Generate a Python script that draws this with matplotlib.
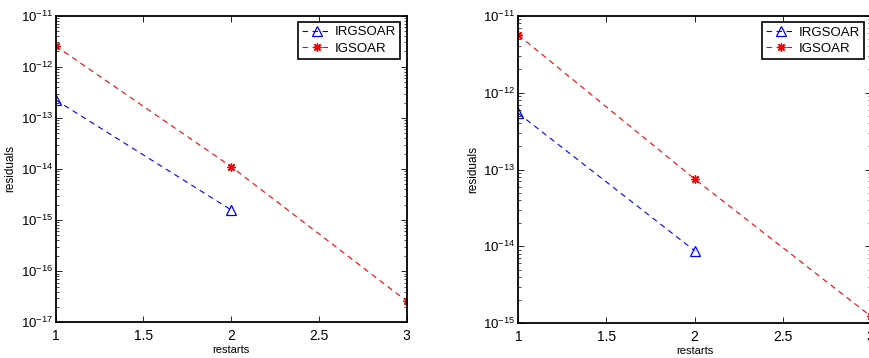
import matplotlib
matplotlib.use('Agg')
import matplotlib.pyplot as plt
from matplotlib.ticker import LogLocator, NullFormatter

plt.rcParams['font.family'] = ['Liberation Sans', 'DejaVu Sans']
plt.rcParams['mathtext.fontset'] = 'custom'
plt.rcParams['mathtext.rm'] = 'Liberation Sans'
plt.rcParams['mathtext.it'] = 'Liberation Sans:italic'

# restart index
restarts_a = [1, 2]
restarts_b = [1, 2, 3]

# left panel residuals
left_irgsoar = [2.24e-13, 1.58e-15]
left_igsoar = [2.55e-12, 1.11e-14, 2.6e-17]

# right panel residuals
right_irgsoar = [5.37e-13, 8.8e-15]
right_igsoar = [5.6e-12, 7.55e-14, 1.24e-15]

xticks = [1, 1.5, 2, 2.5, 3]
xticklabels = ['1', '1.5', '2', '2.5', '3']


def draw_panel(ax, irg, ig, ylim):
    ax.semilogy(restarts_a, irg, color='blue', ls=(0, (5, 4)), lw=0.8,
                marker='^', mfc='none', mec='blue', ms=7, mew=0.9,
                label='IRGSOAR')
    ax.semilogy(restarts_b, ig, color='red', ls=(0, (5, 4)), lw=0.8,
                marker=(8, 2, 0), mec='red', ms=6, mew=1.0,
                label='IGSOAR')
    ax.set_xlim(1, 3)
    ax.set_ylim(*ylim)
    ax.set_xticks(xticks)
    ax.set_xticklabels(xticklabels)
    ax.yaxis.set_major_locator(LogLocator(base=10, numticks=20))
    ax.yaxis.set_minor_locator(LogLocator(base=10, subs=range(2, 10), numticks=20))
    ax.yaxis.set_minor_formatter(NullFormatter())
    ax.tick_params(which='both', direction='in', top=True, right=True)
    ax.tick_params(axis='x', labelsize=10, pad=5)
    ax.tick_params(axis='y', labelsize=9.5, pad=2)
    ax.tick_params(which='major', length=4, width=0.6)
    ax.tick_params(which='minor', length=2, width=0.5)
    for s in ax.spines.values():
        s.set_linewidth(1.3)
    ax.set_xlabel('restarts', fontsize=8, labelpad=1)
    ax.set_ylabel('residuals', fontsize=8.5, labelpad=3)
    leg = ax.legend(loc='upper right', fontsize=9.5, fancybox=False,
                    framealpha=1, edgecolor='black', borderaxespad=0.5,
                    handlelength=2.3, handletextpad=0.2, borderpad=0.3,
                    labelspacing=0.3)
    leg.get_frame().set_linewidth(1.2)


fig = plt.figure(figsize=(8.7, 3.58), dpi=100)
ax1 = fig.add_axes([0.064, 0.0997, 0.4035, 0.8565])
ax2 = fig.add_axes([0.5958, 0.097, 0.4050, 0.859])

draw_panel(ax1, left_irgsoar, left_igsoar, (1e-17, 1e-11))
draw_panel(ax2, right_irgsoar, right_igsoar, (1e-15, 1e-11))

fig.savefig('out.png', dpi=100)
